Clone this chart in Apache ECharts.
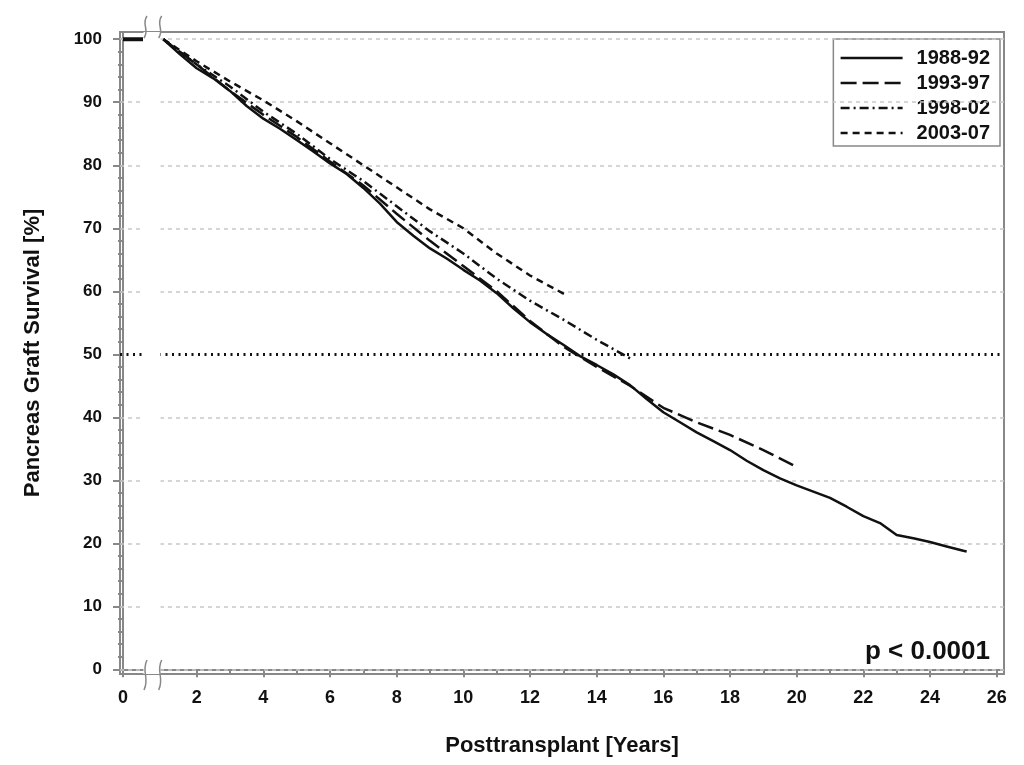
<!DOCTYPE html>
<html>
<head>
<meta charset="utf-8">
<title>Pancreas Graft Survival</title>
<script src="https://cdn.jsdelivr.net/npm/echarts@6/dist/echarts.min.js"></script>
<style>
  html, body { margin: 0; padding: 0; background: #fff; }
  #chart { width: 1024px; height: 765px; }
</style>
</head>
<body>
<div id="chart"></div>
<script>
// data (years posttransplant, survival %)
const seriesNames = ['1988-92', '1993-97', '1998-02', '2003-07'];

const years8892 = [1, 1.5, 2, 2.5, 3, 3.5, 4, 4.5, 5, 5.5, 6, 6.5, 7, 7.5, 8, 8.5, 9, 9.5, 10, 10.5, 11, 11.5, 12, 12.5,
  13, 13.5, 14, 14.5, 15, 15.5, 16, 16.5, 17, 17.5, 18, 18.5, 19, 19.5, 20, 20.5, 21, 21.5, 22, 22.5, 23, 23.5, 24, 24.5, 25, 25.1];
const surv8892 = [100, 97.6, 95.4, 93.8, 91.8, 89.4, 87.4, 85.8, 84, 82.2, 80.3, 78.6, 76.4, 73.9, 71, 68.8, 66.8, 65.2, 63.4, 61.7,
  59.7, 57.3, 55.1, 53.2, 51.5, 49.7, 48.3, 46.8, 45.1, 42.9, 40.8, 39.2, 37.6, 36.2, 34.8, 33.1, 31.6, 30.3, 29.2, 28.2,
  27.2, 25.8, 24.3, 23.2, 21.3, 20.8, 20.2, 19.5, 18.8, 18.7];

const years9397 = [1, 2, 3, 4, 5, 6, 7, 8, 9, 10, 11, 12, 13, 14, 15, 16, 17, 18, 19, 20.05];
const surv9397 = [100, 96, 91.8, 88, 84.5, 80.6, 76.8, 72.3, 68, 64, 60, 55.3, 51.2, 48, 45, 41.5, 39.2, 37.2, 34.8, 32];

const years9802 = [1, 2, 3, 4, 5, 6, 7, 8, 9, 10, 11, 12, 13, 14, 15.05];
const surv9802 = [100, 96, 92.5, 88.5, 85, 81, 77.5, 73.5, 69.5, 66, 62, 58.5, 55.5, 52.3, 49.2];

const years0307 = [1, 2, 3, 4, 5, 6, 7, 8, 9, 10, 11, 12, 13.05];
const surv0307 = [100, 96.5, 93.3, 90.3, 87, 83.5, 80, 76.5, 73, 70, 66, 62.5, 59.5];

// first year (all groups 100%) before the axis break
const startYears = [0, 0.6];
const startSurv = [100, 100];

const xMajorTicks = [0, 2, 4, 6, 8, 10, 12, 14, 16, 18, 20, 22, 24, 26];
const xMinorTicks = [3, 5, 7, 9, 11, 13, 15, 17, 19, 21, 23, 25];
const yMajorTicks = [0, 10, 20, 30, 40, 50, 60, 70, 80, 90, 100];
const yMinorTicks = [2, 4, 6, 8, 12, 14, 16, 18, 22, 24, 26, 28, 32, 34, 36, 38, 42, 44, 46, 48,
  52, 54, 56, 58, 62, 64, 66, 68, 72, 74, 76, 78, 82, 84, 86, 88, 92, 94, 96, 98];
const gridLevels = [0, 10, 20, 30, 40, 60, 70, 80, 90, 100];
const refLevel = 50;

const axisBreak = {start: 0.6, end: 0.92, gap: 0.53};

const zip = (xs, ys) => xs.map((x, i) => [x, ys[i]]);

const chart = echarts.init(document.getElementById('chart'));

const ink = '#111';
const axisGray = '#888';
const font = '"Liberation Sans", Arial, sans-serif';

const lineSeries = (name, data, type) => ({
  name,
  type: 'line',
  data,
  symbol: 'none',
  smooth: false,
  lineStyle: {color: ink, width: 2.5, type},
  itemStyle: {color: ink},
  z: 5
});

const option = {
  animation: false,
  grid: {left: 120, right: 20, top: 32, bottom: 91, show: true, borderColor: axisGray, borderWidth: 2},
  legend: {
    data: seriesNames,
    orient: 'vertical',
    right: 24,
    top: 39,
    padding: [9, 10, 3, 6],
    itemWidth: 62,
    itemHeight: 20,
    itemGap: 5,
    borderColor: axisGray,
    borderWidth: 1.5,
    backgroundColor: '#fff',
    itemStyle: {opacity: 0},
    lineStyle: {width: 2.5},
    textStyle: {color: ink, fontSize: 20, lineHeight: 20, fontWeight: 'bold', fontFamily: font, padding: [0, 0, 0, 9]}
  },
  xAxis: [
    {
      type: 'value',
      min: -0.09,
      max: 26.22,
      breaks: [axisBreak],
      breakArea: {
        show: true,
        itemStyle: {color: '#fff', borderColor: '#fff', borderWidth: 0, opacity: 1},
        zigzagAmplitude: 0,
        expandOnClick: false
      },
      name: 'Posttransplant [Years]',
      nameLocation: 'middle',
      nameGap: 61,
      nameTextStyle: {color: ink, fontSize: 22, fontWeight: 'bold', fontFamily: font},
      axisLine: {lineStyle: {color: axisGray, width: 2}},
      axisTick: {customValues: xMajorTicks, length: 8, lineStyle: {color: axisGray, width: 2}},
      axisLabel: {customValues: xMajorTicks, margin: 15, color: ink, fontSize: 18, fontWeight: 'bold', fontFamily: font},
      splitLine: {show: false}
    },
    {
      type: 'value',
      min: -0.09,
      max: 26.22,
      breaks: [axisBreak],
      breakArea: {show: false},
      position: 'bottom',
      axisLine: {show: false},
      axisTick: {customValues: xMinorTicks, length: 4, lineStyle: {color: axisGray, width: 2}},
      axisLabel: {show: false},
      splitLine: {show: false}
    }
  ],
  yAxis: [
    {
      type: 'value',
      min: -0.75,
      max: 101.15,
      name: 'Pancreas Graft Survival [%]',
      nameLocation: 'middle',
      nameGap: 76,
      nameTextStyle: {color: ink, fontSize: 22, fontWeight: 'bold', fontFamily: font},
      axisLine: {show: true, lineStyle: {color: axisGray, width: 2}},
      axisTick: {show: true, customValues: yMajorTicks, length: 10, lineStyle: {color: axisGray, width: 2}},
      axisLabel: {customValues: yMajorTicks, margin: 18, color: ink, fontSize: 17, fontWeight: 'bold', fontFamily: font},
      splitLine: {show: false}
    },
    {
      type: 'value',
      min: -0.75,
      max: 101.15,
      position: 'left',
      axisLine: {show: false},
      axisTick: {show: true, customValues: yMinorTicks, length: 5, lineStyle: {color: axisGray, width: 2}},
      axisLabel: {show: false},
      splitLine: {show: false}
    }
  ],
  series: [
    {
      name: 'first year',
      type: 'line',
      data: zip(startYears, startSurv),
      symbol: 'none',
      lineStyle: {color: ink, width: 4},
      z: 5,
      markLine: {
        silent: true,
        symbol: 'none',
        label: {show: false},
        animation: false,
        data: [
          ...gridLevels.map(v => ({yAxis: v, lineStyle: {color: '#c8c8c8', width: 1.5, type: [4, 4]}})),
          {yAxis: refLevel, lineStyle: {color: ink, width: 3, type: [2, 4.5]}}
        ]
      }
    },
    lineSeries(seriesNames[0], zip(years8892, surv8892), 'solid'),
    lineSeries(seriesNames[1], zip(years9397, surv9397), [16, 6]),
    lineSeries(seriesNames[2], zip(years9802, surv9802), [9, 4, 2, 4]),
    lineSeries(seriesNames[3], zip(years0307, surv0307), [7, 5])
  ],
  graphic: [
    {
      type: 'text',
      right: 34,
      top: 639,
      style: {text: 'p < 0.0001', fill: ink, fontSize: 26, fontWeight: 'bold', fontFamily: font}
    }
  ]
};

chart.setOption(option);

// break marks "( (" on the top border and the x axis
const drawBreakMarks = () => {
  const x1 = chart.convertToPixel({xAxisIndex: 0}, axisBreak.start);
  const x2 = chart.convertToPixel({xAxisIndex: 0}, axisBreak.end);
  const yTop = chart.convertToPixel({yAxisIndex: 0}, 101.15);
  const yBot = chart.convertToPixel({yAxisIndex: 0}, -0.75);
  const mark = (x, y0, y1) => ({
    type: 'bezierCurve',
    shape: {x1: x + 2, y1: y0, cpx1: x - 4, cpy1: y0 + (y1 - y0) * 0.4, cpx2: x + 5, cpy2: y0 + (y1 - y0) * 0.6, x2: x - 1, y2: y1},
    style: {stroke: axisGray, lineWidth: 1.5, fill: null},
    z: 200,
    silent: true
  });
  const marks = [];
  [x1 + 2, x2 - 1].forEach(x => {
    marks.push(mark(x, yTop - 16, yTop + 6));
    marks.push(mark(x, yBot - 14, yBot + 16));
  });
  chart.setOption({graphic: [option.graphic[0], ...marks]}, {replaceMerge: ['graphic']});
};
drawBreakMarks();
</script>
</body>
</html>
